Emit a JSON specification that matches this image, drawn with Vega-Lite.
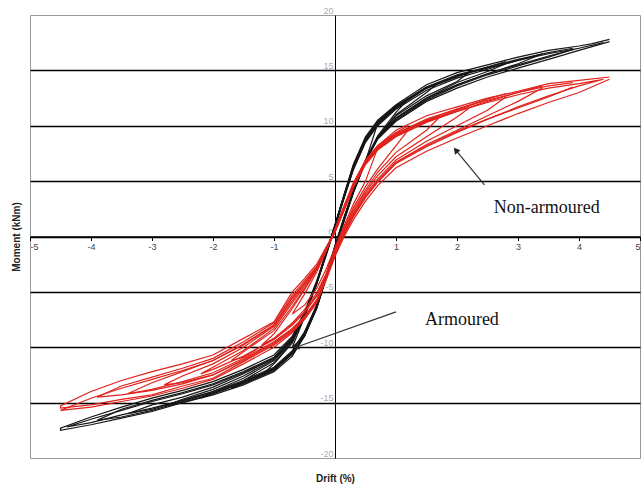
{
"$schema":"https://vega.github.io/schema/vega-lite/v6.json",
"width":610,"height":443,
"autosize":{"type":"none"},
"padding":{"left":30,"top":15,"right":1,"bottom":33},
"config":{"view":{"stroke":"#9a9a9a","strokeWidth":1},"font":"Liberation Sans"},
"datasets":{
"loops":[
{"s":"A","c":11,"x":0.7,"y":10.2},{"s":"A","c":11,"x":0.5,"y":8.8},{"s":"A","c":11,"x":0.3,"y":6.3},{"s":"A","c":11,"x":0.15,"y":3.7},{"s":"A","c":11,"x":0,"y":1.0},{"s":"A","c":11,"x":-0.15,"y":-1.7},{"s":"A","c":11,"x":-0.3,"y":-4.3},{"s":"A","c":11,"x":-0.5,"y":-7.3},{"s":"A","c":11,"x":-0.7,"y":-10.0},{"s":"A","c":11,"x":-0.5,"y":-9.0},{"s":"A","c":11,"x":-0.3,"y":-6.5},{"s":"A","c":11,"x":-0.15,"y":-3.9},{"s":"A","c":11,"x":0,"y":-1.2},{"s":"A","c":11,"x":0.15,"y":1.4},{"s":"A","c":11,"x":0.3,"y":3.9},{"s":"A","c":11,"x":0.5,"y":6.8},{"s":"A","c":11,"x":0.7,"y":10.2},

{"s":"A","c":1,"x":1.2,"y":12.4},{"s":"A","c":1,"x":1.0,"y":11.8},{"s":"A","c":1,"x":0.7,"y":10.4},{"s":"A","c":1,"x":0.5,"y":8.9},{"s":"A","c":1,"x":0.3,"y":6.4},{"s":"A","c":1,"x":0.15,"y":3.8},{"s":"A","c":1,"x":0,"y":1.1},{"s":"A","c":1,"x":-0.15,"y":-1.6},{"s":"A","c":1,"x":-0.3,"y":-4.2},{"s":"A","c":1,"x":-0.5,"y":-7.2},{"s":"A","c":1,"x":-0.7,"y":-9.6},{"s":"A","c":1,"x":-1.0,"y":-11.5},{"s":"A","c":1,"x":-1.2,"y":-12.5},
{"s":"A","c":1,"x":-1.0,"y":-12.0},{"s":"A","c":1,"x":-0.7,"y":-10.6},{"s":"A","c":1,"x":-0.5,"y":-9.0},{"s":"A","c":1,"x":-0.3,"y":-6.4},{"s":"A","c":1,"x":-0.15,"y":-3.8},{"s":"A","c":1,"x":0,"y":-1.1},{"s":"A","c":1,"x":0.15,"y":1.5},{"s":"A","c":1,"x":0.3,"y":4.0},{"s":"A","c":1,"x":0.5,"y":6.9},{"s":"A","c":1,"x":0.7,"y":9.1},{"s":"A","c":1,"x":1.0,"y":11.2},{"s":"A","c":1,"x":1.2,"y":12.4},

{"s":"A","c":12,"x":1.7,"y":13.9},{"s":"A","c":12,"x":1.5,"y":13.5},{"s":"A","c":12,"x":1.0,"y":11.8},{"s":"A","c":12,"x":0.7,"y":10.3},{"s":"A","c":12,"x":0.5,"y":8.8},{"s":"A","c":12,"x":0.3,"y":6.3},{"s":"A","c":12,"x":0.15,"y":3.7},{"s":"A","c":12,"x":0,"y":1.0},{"s":"A","c":12,"x":-0.15,"y":-1.6},{"s":"A","c":12,"x":-0.3,"y":-4.2},{"s":"A","c":12,"x":-0.5,"y":-7.1},{"s":"A","c":12,"x":-0.7,"y":-9.5},{"s":"A","c":12,"x":-1.0,"y":-11.4},{"s":"A","c":12,"x":-1.5,"y":-13.0},{"s":"A","c":12,"x":-1.7,"y":-13.7},
{"s":"A","c":12,"x":-1.5,"y":-13.3},{"s":"A","c":12,"x":-1.0,"y":-12.1},{"s":"A","c":12,"x":-0.7,"y":-10.6},{"s":"A","c":12,"x":-0.5,"y":-8.9},{"s":"A","c":12,"x":-0.3,"y":-6.4},{"s":"A","c":12,"x":-0.15,"y":-3.8},{"s":"A","c":12,"x":0,"y":-1.1},{"s":"A","c":12,"x":0.15,"y":1.5},{"s":"A","c":12,"x":0.3,"y":4.0},{"s":"A","c":12,"x":0.5,"y":6.8},{"s":"A","c":12,"x":0.7,"y":9.0},{"s":"A","c":12,"x":1.0,"y":11.0},{"s":"A","c":12,"x":1.5,"y":13.0},{"s":"A","c":12,"x":1.7,"y":13.9},

{"s":"A","c":2,"x":2.2,"y":14.8},{"s":"A","c":2,"x":2.0,"y":14.4},{"s":"A","c":2,"x":1.5,"y":13.4},{"s":"A","c":2,"x":1.0,"y":11.7},{"s":"A","c":2,"x":0.7,"y":10.2},{"s":"A","c":2,"x":0.5,"y":8.7},{"s":"A","c":2,"x":0.3,"y":6.2},{"s":"A","c":2,"x":0.15,"y":3.6},{"s":"A","c":2,"x":0,"y":1.0},{"s":"A","c":2,"x":-0.15,"y":-1.6},{"s":"A","c":2,"x":-0.3,"y":-4.2},{"s":"A","c":2,"x":-0.5,"y":-7.0},{"s":"A","c":2,"x":-0.7,"y":-9.4},{"s":"A","c":2,"x":-1.0,"y":-11.2},{"s":"A","c":2,"x":-1.5,"y":-12.8},{"s":"A","c":2,"x":-2.0,"y":-14.0},{"s":"A","c":2,"x":-2.2,"y":-14.6},
{"s":"A","c":2,"x":-2.0,"y":-14.2},{"s":"A","c":2,"x":-1.5,"y":-13.2},{"s":"A","c":2,"x":-1.0,"y":-12.0},{"s":"A","c":2,"x":-0.7,"y":-10.5},{"s":"A","c":2,"x":-0.5,"y":-8.8},{"s":"A","c":2,"x":-0.3,"y":-6.3},{"s":"A","c":2,"x":-0.15,"y":-3.7},{"s":"A","c":2,"x":0,"y":-1.0},{"s":"A","c":2,"x":0.15,"y":1.6},{"s":"A","c":2,"x":0.3,"y":4.1},{"s":"A","c":2,"x":0.5,"y":6.8},{"s":"A","c":2,"x":0.7,"y":9.0},{"s":"A","c":2,"x":1.0,"y":10.9},{"s":"A","c":2,"x":1.5,"y":12.7},{"s":"A","c":2,"x":2.0,"y":14.0},{"s":"A","c":2,"x":2.2,"y":14.8},

{"s":"A","c":13,"x":2.8,"y":15.8},{"s":"A","c":13,"x":2.5,"y":15.3},{"s":"A","c":13,"x":2.0,"y":14.5},{"s":"A","c":13,"x":1.5,"y":13.4},{"s":"A","c":13,"x":1.0,"y":11.6},{"s":"A","c":13,"x":0.7,"y":10.1},{"s":"A","c":13,"x":0.5,"y":8.6},{"s":"A","c":13,"x":0.3,"y":6.1},{"s":"A","c":13,"x":0.15,"y":3.5},{"s":"A","c":13,"x":0,"y":0.9},{"s":"A","c":13,"x":-0.15,"y":-1.7},{"s":"A","c":13,"x":-0.3,"y":-4.2},{"s":"A","c":13,"x":-0.5,"y":-7.0},{"s":"A","c":13,"x":-0.7,"y":-9.3},{"s":"A","c":13,"x":-1.0,"y":-11.1},{"s":"A","c":13,"x":-1.5,"y":-12.6},{"s":"A","c":13,"x":-2.0,"y":-13.8},{"s":"A","c":13,"x":-2.5,"y":-14.7},{"s":"A","c":13,"x":-2.8,"y":-15.3},
{"s":"A","c":13,"x":-2.5,"y":-15.0},{"s":"A","c":13,"x":-2.0,"y":-14.2},{"s":"A","c":13,"x":-1.5,"y":-13.2},{"s":"A","c":13,"x":-1.0,"y":-11.9},{"s":"A","c":13,"x":-0.7,"y":-10.4},{"s":"A","c":13,"x":-0.5,"y":-8.7},{"s":"A","c":13,"x":-0.3,"y":-6.2},{"s":"A","c":13,"x":-0.15,"y":-3.6},{"s":"A","c":13,"x":0,"y":-0.9},{"s":"A","c":13,"x":0.15,"y":1.7},{"s":"A","c":13,"x":0.3,"y":4.1},{"s":"A","c":13,"x":0.5,"y":6.8},{"s":"A","c":13,"x":0.7,"y":8.9},{"s":"A","c":13,"x":1.0,"y":10.7},{"s":"A","c":13,"x":1.5,"y":12.5},{"s":"A","c":13,"x":2.0,"y":13.9},{"s":"A","c":13,"x":2.5,"y":14.9},{"s":"A","c":13,"x":2.8,"y":15.6},

{"s":"A","c":3,"x":3.4,"y":16.5},{"s":"A","c":3,"x":3.0,"y":15.9},{"s":"A","c":3,"x":2.5,"y":15.1},{"s":"A","c":3,"x":2.0,"y":14.3},{"s":"A","c":3,"x":1.5,"y":13.2},{"s":"A","c":3,"x":1.0,"y":11.5},{"s":"A","c":3,"x":0.7,"y":10.0},{"s":"A","c":3,"x":0.5,"y":8.5},{"s":"A","c":3,"x":0.3,"y":6.0},{"s":"A","c":3,"x":0.15,"y":3.5},{"s":"A","c":3,"x":0,"y":0.8},{"s":"A","c":3,"x":-0.15,"y":-1.8},{"s":"A","c":3,"x":-0.3,"y":-4.3},{"s":"A","c":3,"x":-0.5,"y":-7.0},{"s":"A","c":3,"x":-0.7,"y":-9.2},{"s":"A","c":3,"x":-1.0,"y":-11.0},{"s":"A","c":3,"x":-1.5,"y":-12.4},{"s":"A","c":3,"x":-2.0,"y":-13.6},{"s":"A","c":3,"x":-2.5,"y":-14.5},{"s":"A","c":3,"x":-3.0,"y":-15.2},{"s":"A","c":3,"x":-3.4,"y":-16.0},
{"s":"A","c":3,"x":-3.0,"y":-15.6},{"s":"A","c":3,"x":-2.5,"y":-14.8},{"s":"A","c":3,"x":-2.0,"y":-14.0},{"s":"A","c":3,"x":-1.5,"y":-13.0},{"s":"A","c":3,"x":-1.0,"y":-11.8},{"s":"A","c":3,"x":-0.7,"y":-10.3},{"s":"A","c":3,"x":-0.5,"y":-8.6},{"s":"A","c":3,"x":-0.3,"y":-6.2},{"s":"A","c":3,"x":-0.15,"y":-3.6},{"s":"A","c":3,"x":0,"y":-0.8},{"s":"A","c":3,"x":0.15,"y":1.8},{"s":"A","c":3,"x":0.3,"y":4.2},{"s":"A","c":3,"x":0.5,"y":6.8},{"s":"A","c":3,"x":0.7,"y":8.8},{"s":"A","c":3,"x":1.0,"y":10.6},{"s":"A","c":3,"x":1.5,"y":12.4},{"s":"A","c":3,"x":2.0,"y":13.7},{"s":"A","c":3,"x":2.5,"y":14.7},{"s":"A","c":3,"x":3.0,"y":15.6},{"s":"A","c":3,"x":3.4,"y":16.5},

{"s":"A","c":14,"x":3.9,"y":17.0},{"s":"A","c":14,"x":3.5,"y":16.6},{"s":"A","c":14,"x":3.0,"y":16.0},{"s":"A","c":14,"x":2.5,"y":15.3},{"s":"A","c":14,"x":2.0,"y":14.6},{"s":"A","c":14,"x":1.5,"y":13.5},{"s":"A","c":14,"x":1.0,"y":11.7},{"s":"A","c":14,"x":0.7,"y":10.3},{"s":"A","c":14,"x":0.5,"y":8.8},{"s":"A","c":14,"x":0.3,"y":6.3},{"s":"A","c":14,"x":0.15,"y":3.7},{"s":"A","c":14,"x":0,"y":0.9},{"s":"A","c":14,"x":-0.15,"y":-1.6},{"s":"A","c":14,"x":-0.3,"y":-4.1},{"s":"A","c":14,"x":-0.5,"y":-6.9},{"s":"A","c":14,"x":-0.7,"y":-9.1},{"s":"A","c":14,"x":-1.0,"y":-10.9},{"s":"A","c":14,"x":-1.5,"y":-12.2},{"s":"A","c":14,"x":-2.0,"y":-13.3},{"s":"A","c":14,"x":-2.5,"y":-14.1},{"s":"A","c":14,"x":-3.0,"y":-14.8},{"s":"A","c":14,"x":-3.5,"y":-15.6},{"s":"A","c":14,"x":-3.9,"y":-16.6},
{"s":"A","c":14,"x":-3.5,"y":-16.3},{"s":"A","c":14,"x":-3.0,"y":-15.7},{"s":"A","c":14,"x":-2.5,"y":-14.9},{"s":"A","c":14,"x":-2.0,"y":-14.1},{"s":"A","c":14,"x":-1.5,"y":-13.2},{"s":"A","c":14,"x":-1.0,"y":-12.0},{"s":"A","c":14,"x":-0.7,"y":-10.6},{"s":"A","c":14,"x":-0.5,"y":-8.9},{"s":"A","c":14,"x":-0.3,"y":-6.4},{"s":"A","c":14,"x":-0.15,"y":-3.7},{"s":"A","c":14,"x":0,"y":-0.9},{"s":"A","c":14,"x":0.15,"y":1.6},{"s":"A","c":14,"x":0.3,"y":4.0},{"s":"A","c":14,"x":0.5,"y":6.8},{"s":"A","c":14,"x":0.7,"y":8.9},{"s":"A","c":14,"x":1.0,"y":10.5},{"s":"A","c":14,"x":1.5,"y":12.3},{"s":"A","c":14,"x":2.0,"y":13.6},{"s":"A","c":14,"x":2.5,"y":14.6},{"s":"A","c":14,"x":3.0,"y":15.4},{"s":"A","c":14,"x":3.5,"y":16.2},{"s":"A","c":14,"x":3.9,"y":16.9},

{"s":"A","c":4,"x":4.5,"y":17.8},{"s":"A","c":4,"x":4.2,"y":17.4},{"s":"A","c":4,"x":4.0,"y":17.2},{"s":"A","c":4,"x":3.5,"y":16.8},{"s":"A","c":4,"x":3.0,"y":16.2},{"s":"A","c":4,"x":2.5,"y":15.5},{"s":"A","c":4,"x":2.0,"y":14.8},{"s":"A","c":4,"x":1.5,"y":13.7},{"s":"A","c":4,"x":1.0,"y":11.9},{"s":"A","c":4,"x":0.7,"y":10.5},{"s":"A","c":4,"x":0.5,"y":9.0},{"s":"A","c":4,"x":0.3,"y":6.5},{"s":"A","c":4,"x":0.15,"y":3.8},{"s":"A","c":4,"x":0,"y":1.0},{"s":"A","c":4,"x":-0.15,"y":-1.5},{"s":"A","c":4,"x":-0.3,"y":-4.0},{"s":"A","c":4,"x":-0.5,"y":-6.8},{"s":"A","c":4,"x":-0.7,"y":-9.0},{"s":"A","c":4,"x":-1.0,"y":-10.7},{"s":"A","c":4,"x":-1.5,"y":-12.0},{"s":"A","c":4,"x":-2.0,"y":-13.1},{"s":"A","c":4,"x":-2.5,"y":-13.9},{"s":"A","c":4,"x":-3.0,"y":-14.6},{"s":"A","c":4,"x":-3.5,"y":-15.4},{"s":"A","c":4,"x":-4.0,"y":-16.3},{"s":"A","c":4,"x":-4.5,"y":-17.3},
{"s":"A","c":4,"x":-4.5,"y":-17.5},{"s":"A","c":4,"x":-4.2,"y":-17.2},{"s":"A","c":4,"x":-4.0,"y":-17.0},{"s":"A","c":4,"x":-3.5,"y":-16.4},{"s":"A","c":4,"x":-3.0,"y":-15.8},{"s":"A","c":4,"x":-2.5,"y":-15.0},{"s":"A","c":4,"x":-2.0,"y":-14.3},{"s":"A","c":4,"x":-1.5,"y":-13.4},{"s":"A","c":4,"x":-1.0,"y":-12.2},{"s":"A","c":4,"x":-0.7,"y":-10.8},{"s":"A","c":4,"x":-0.5,"y":-9.0},{"s":"A","c":4,"x":-0.3,"y":-6.5},{"s":"A","c":4,"x":-0.15,"y":-3.8},{"s":"A","c":4,"x":0,"y":-1.0},{"s":"A","c":4,"x":0.15,"y":1.5},{"s":"A","c":4,"x":0.3,"y":4.0},{"s":"A","c":4,"x":0.5,"y":6.8},{"s":"A","c":4,"x":0.7,"y":8.8},{"s":"A","c":4,"x":1.0,"y":10.4},{"s":"A","c":4,"x":1.5,"y":12.2},{"s":"A","c":4,"x":2.0,"y":13.4},{"s":"A","c":4,"x":2.5,"y":14.4},{"s":"A","c":4,"x":3.0,"y":15.2},{"s":"A","c":4,"x":3.5,"y":16.0},{"s":"A","c":4,"x":4.0,"y":16.8},{"s":"A","c":4,"x":4.5,"y":17.6},

{"s":"A","c":5,"x":4.4,"y":17.5},{"s":"A","c":5,"x":4.0,"y":17.0},{"s":"A","c":5,"x":3.5,"y":16.5},{"s":"A","c":5,"x":3.0,"y":15.9},{"s":"A","c":5,"x":2.5,"y":15.2},{"s":"A","c":5,"x":2.0,"y":14.5},{"s":"A","c":5,"x":1.5,"y":13.4},{"s":"A","c":5,"x":1.0,"y":11.6},{"s":"A","c":5,"x":0.7,"y":10.2},{"s":"A","c":5,"x":0.5,"y":8.7},{"s":"A","c":5,"x":0.3,"y":6.2},{"s":"A","c":5,"x":0.15,"y":3.6},{"s":"A","c":5,"x":0,"y":0.9},{"s":"A","c":5,"x":-0.15,"y":-1.7},{"s":"A","c":5,"x":-0.3,"y":-4.2},{"s":"A","c":5,"x":-0.5,"y":-7.0},{"s":"A","c":5,"x":-0.7,"y":-9.3},{"s":"A","c":5,"x":-1.0,"y":-11.0},{"s":"A","c":5,"x":-1.5,"y":-12.3},{"s":"A","c":5,"x":-2.0,"y":-13.4},{"s":"A","c":5,"x":-2.5,"y":-14.2},{"s":"A","c":5,"x":-3.0,"y":-14.9},{"s":"A","c":5,"x":-3.5,"y":-15.7},{"s":"A","c":5,"x":-4.0,"y":-16.5},{"s":"A","c":5,"x":-4.4,"y":-17.2},
{"s":"A","c":5,"x":-4.0,"y":-16.8},{"s":"A","c":5,"x":-3.5,"y":-16.1},{"s":"A","c":5,"x":-3.0,"y":-15.5},{"s":"A","c":5,"x":-2.5,"y":-14.8},{"s":"A","c":5,"x":-2.0,"y":-14.0},{"s":"A","c":5,"x":-1.5,"y":-13.1},{"s":"A","c":5,"x":-1.0,"y":-11.9},{"s":"A","c":5,"x":-0.7,"y":-10.5},{"s":"A","c":5,"x":-0.5,"y":-8.8},{"s":"A","c":5,"x":-0.3,"y":-6.3},{"s":"A","c":5,"x":-0.15,"y":-3.7},{"s":"A","c":5,"x":0,"y":-0.9},{"s":"A","c":5,"x":0.15,"y":1.7},{"s":"A","c":5,"x":0.3,"y":4.1},{"s":"A","c":5,"x":0.5,"y":6.9},{"s":"A","c":5,"x":0.7,"y":9.0},{"s":"A","c":5,"x":1.0,"y":10.7},{"s":"A","c":5,"x":1.5,"y":12.5},{"s":"A","c":5,"x":2.0,"y":13.7},{"s":"A","c":5,"x":2.5,"y":14.7},{"s":"A","c":5,"x":3.0,"y":15.5},{"s":"A","c":5,"x":3.5,"y":16.3},{"s":"A","c":5,"x":4.0,"y":17.0},{"s":"A","c":5,"x":4.4,"y":17.5},

{"s":"N","c":15,"x":0.7,"y":8.0},{"s":"N","c":15,"x":0.5,"y":6.8},{"s":"N","c":15,"x":0.3,"y":4.8},{"s":"N","c":15,"x":0.15,"y":2.8},{"s":"N","c":15,"x":0,"y":0.7},{"s":"N","c":15,"x":-0.15,"y":-1.4},{"s":"N","c":15,"x":-0.3,"y":-3.2},{"s":"N","c":15,"x":-0.5,"y":-5.2},{"s":"N","c":15,"x":-0.7,"y":-7.0},{"s":"N","c":15,"x":-0.5,"y":-6.2},{"s":"N","c":15,"x":-0.3,"y":-4.7},{"s":"N","c":15,"x":-0.15,"y":-3.0},{"s":"N","c":15,"x":0,"y":-1.0},{"s":"N","c":15,"x":0.15,"y":1.0},{"s":"N","c":15,"x":0.3,"y":2.9},{"s":"N","c":15,"x":0.5,"y":5.0},{"s":"N","c":15,"x":0.7,"y":8.0},

{"s":"N","c":6,"x":1.2,"y":10.0},{"s":"N","c":6,"x":1.0,"y":9.4},{"s":"N","c":6,"x":0.7,"y":8.2},{"s":"N","c":6,"x":0.5,"y":6.9},{"s":"N","c":6,"x":0.3,"y":4.8},{"s":"N","c":6,"x":0.15,"y":2.7},{"s":"N","c":6,"x":0,"y":0.6},{"s":"N","c":6,"x":-0.15,"y":-1.3},{"s":"N","c":6,"x":-0.3,"y":-3.0},{"s":"N","c":6,"x":-0.5,"y":-4.8},{"s":"N","c":6,"x":-0.7,"y":-6.5},{"s":"N","c":6,"x":-1.0,"y":-8.8},{"s":"N","c":6,"x":-1.2,"y":-9.8},
{"s":"N","c":6,"x":-1.0,"y":-9.2},{"s":"N","c":6,"x":-0.7,"y":-7.8},{"s":"N","c":6,"x":-0.5,"y":-6.6},{"s":"N","c":6,"x":-0.3,"y":-5.1},{"s":"N","c":6,"x":-0.15,"y":-3.4},{"s":"N","c":6,"x":0,"y":-1.2},{"s":"N","c":6,"x":0.15,"y":0.8},{"s":"N","c":6,"x":0.3,"y":2.6},{"s":"N","c":6,"x":0.5,"y":4.5},{"s":"N","c":6,"x":0.7,"y":6.1},{"s":"N","c":6,"x":1.0,"y":8.2},{"s":"N","c":6,"x":1.2,"y":9.6},

{"s":"N","c":16,"x":1.7,"y":10.9},{"s":"N","c":16,"x":1.5,"y":10.5},{"s":"N","c":16,"x":1.0,"y":9.3},{"s":"N","c":16,"x":0.7,"y":8.1},{"s":"N","c":16,"x":0.5,"y":6.8},{"s":"N","c":16,"x":0.3,"y":4.7},{"s":"N","c":16,"x":0.15,"y":2.6},{"s":"N","c":16,"x":0,"y":0.5},{"s":"N","c":16,"x":-0.15,"y":-1.2},{"s":"N","c":16,"x":-0.3,"y":-3.0},{"s":"N","c":16,"x":-0.5,"y":-4.7},{"s":"N","c":16,"x":-0.7,"y":-6.3},{"s":"N","c":16,"x":-1.0,"y":-8.5},{"s":"N","c":16,"x":-1.5,"y":-10.4},{"s":"N","c":16,"x":-1.7,"y":-11.2},
{"s":"N","c":16,"x":-1.5,"y":-10.9},{"s":"N","c":16,"x":-1.0,"y":-9.2},{"s":"N","c":16,"x":-0.7,"y":-7.9},{"s":"N","c":16,"x":-0.5,"y":-6.8},{"s":"N","c":16,"x":-0.3,"y":-5.3},{"s":"N","c":16,"x":-0.15,"y":-3.5},{"s":"N","c":16,"x":0,"y":-1.3},{"s":"N","c":16,"x":0.15,"y":0.6},{"s":"N","c":16,"x":0.3,"y":2.4},{"s":"N","c":16,"x":0.5,"y":4.2},{"s":"N","c":16,"x":0.7,"y":5.8},{"s":"N","c":16,"x":1.0,"y":7.6},{"s":"N","c":16,"x":1.5,"y":9.6},{"s":"N","c":16,"x":1.7,"y":10.7},

{"s":"N","c":7,"x":2.2,"y":11.8},{"s":"N","c":7,"x":2.0,"y":11.4},{"s":"N","c":7,"x":1.5,"y":10.4},{"s":"N","c":7,"x":1.0,"y":9.2},{"s":"N","c":7,"x":0.7,"y":8.0},{"s":"N","c":7,"x":0.5,"y":6.7},{"s":"N","c":7,"x":0.3,"y":4.6},{"s":"N","c":7,"x":0.15,"y":2.5},{"s":"N","c":7,"x":0,"y":0.5},{"s":"N","c":7,"x":-0.15,"y":-1.2},{"s":"N","c":7,"x":-0.3,"y":-2.9},{"s":"N","c":7,"x":-0.5,"y":-4.5},{"s":"N","c":7,"x":-0.7,"y":-6.0},{"s":"N","c":7,"x":-1.0,"y":-8.3},{"s":"N","c":7,"x":-1.5,"y":-10.3},{"s":"N","c":7,"x":-2.0,"y":-11.8},{"s":"N","c":7,"x":-2.2,"y":-12.4},
{"s":"N","c":7,"x":-2.0,"y":-12.0},{"s":"N","c":7,"x":-1.5,"y":-10.8},{"s":"N","c":7,"x":-1.0,"y":-9.3},{"s":"N","c":7,"x":-0.7,"y":-8.0},{"s":"N","c":7,"x":-0.5,"y":-6.9},{"s":"N","c":7,"x":-0.3,"y":-5.4},{"s":"N","c":7,"x":-0.15,"y":-3.6},{"s":"N","c":7,"x":0,"y":-1.4},{"s":"N","c":7,"x":0.15,"y":0.5},{"s":"N","c":7,"x":0.3,"y":2.2},{"s":"N","c":7,"x":0.5,"y":4.0},{"s":"N","c":7,"x":0.7,"y":5.5},{"s":"N","c":7,"x":1.0,"y":7.2},{"s":"N","c":7,"x":1.5,"y":9.0},{"s":"N","c":7,"x":2.0,"y":10.8},{"s":"N","c":7,"x":2.2,"y":11.6},

{"s":"N","c":17,"x":2.8,"y":12.9},{"s":"N","c":17,"x":2.5,"y":12.4},{"s":"N","c":17,"x":2.0,"y":11.5},{"s":"N","c":17,"x":1.5,"y":10.5},{"s":"N","c":17,"x":1.0,"y":9.1},{"s":"N","c":17,"x":0.7,"y":7.9},{"s":"N","c":17,"x":0.5,"y":6.6},{"s":"N","c":17,"x":0.3,"y":4.5},{"s":"N","c":17,"x":0.15,"y":2.4},{"s":"N","c":17,"x":0,"y":0.4},{"s":"N","c":17,"x":-0.15,"y":-1.2},{"s":"N","c":17,"x":-0.3,"y":-2.8},{"s":"N","c":17,"x":-0.5,"y":-4.3},{"s":"N","c":17,"x":-0.7,"y":-5.8},{"s":"N","c":17,"x":-1.0,"y":-8.1},{"s":"N","c":17,"x":-1.5,"y":-10.0},{"s":"N","c":17,"x":-2.0,"y":-11.5},{"s":"N","c":17,"x":-2.5,"y":-12.6},{"s":"N","c":17,"x":-2.8,"y":-13.4},
{"s":"N","c":17,"x":-2.5,"y":-13.2},{"s":"N","c":17,"x":-2.0,"y":-12.5},{"s":"N","c":17,"x":-1.5,"y":-11.1},{"s":"N","c":17,"x":-1.0,"y":-9.6},{"s":"N","c":17,"x":-0.7,"y":-8.4},{"s":"N","c":17,"x":-0.5,"y":-7.3},{"s":"N","c":17,"x":-0.3,"y":-5.8},{"s":"N","c":17,"x":-0.15,"y":-3.8},{"s":"N","c":17,"x":0,"y":-1.6},{"s":"N","c":17,"x":0.15,"y":0.3},{"s":"N","c":17,"x":0.3,"y":2.0},{"s":"N","c":17,"x":0.5,"y":3.8},{"s":"N","c":17,"x":0.7,"y":5.2},{"s":"N","c":17,"x":1.0,"y":6.9},{"s":"N","c":17,"x":1.5,"y":8.6},{"s":"N","c":17,"x":2.0,"y":10.0},{"s":"N","c":17,"x":2.5,"y":11.4},{"s":"N","c":17,"x":2.8,"y":12.6},

{"s":"N","c":8,"x":3.4,"y":13.6},{"s":"N","c":8,"x":3.0,"y":13.0},{"s":"N","c":8,"x":2.5,"y":12.2},{"s":"N","c":8,"x":2.0,"y":11.3},{"s":"N","c":8,"x":1.5,"y":10.3},{"s":"N","c":8,"x":1.0,"y":9.0},{"s":"N","c":8,"x":0.7,"y":7.8},{"s":"N","c":8,"x":0.5,"y":6.5},{"s":"N","c":8,"x":0.3,"y":4.4},{"s":"N","c":8,"x":0.15,"y":2.4},{"s":"N","c":8,"x":0,"y":0.4},{"s":"N","c":8,"x":-0.15,"y":-1.2},{"s":"N","c":8,"x":-0.3,"y":-2.8},{"s":"N","c":8,"x":-0.5,"y":-4.2},{"s":"N","c":8,"x":-0.7,"y":-5.6},{"s":"N","c":8,"x":-1.0,"y":-8.0},{"s":"N","c":8,"x":-1.5,"y":-9.8},{"s":"N","c":8,"x":-2.0,"y":-11.2},{"s":"N","c":8,"x":-2.5,"y":-12.2},{"s":"N","c":8,"x":-3.0,"y":-13.2},{"s":"N","c":8,"x":-3.4,"y":-14.2},
{"s":"N","c":8,"x":-3.0,"y":-13.8},{"s":"N","c":8,"x":-2.5,"y":-13.1},{"s":"N","c":8,"x":-2.0,"y":-12.3},{"s":"N","c":8,"x":-1.5,"y":-11.0},{"s":"N","c":8,"x":-1.0,"y":-9.5},{"s":"N","c":8,"x":-0.7,"y":-8.3},{"s":"N","c":8,"x":-0.5,"y":-7.2},{"s":"N","c":8,"x":-0.3,"y":-5.7},{"s":"N","c":8,"x":-0.15,"y":-3.8},{"s":"N","c":8,"x":0,"y":-1.6},{"s":"N","c":8,"x":0.15,"y":0.3},{"s":"N","c":8,"x":0.3,"y":1.9},{"s":"N","c":8,"x":0.5,"y":3.6},{"s":"N","c":8,"x":0.7,"y":5.0},{"s":"N","c":8,"x":1.0,"y":6.7},{"s":"N","c":8,"x":1.5,"y":8.3},{"s":"N","c":8,"x":2.0,"y":9.6},{"s":"N","c":8,"x":2.5,"y":10.9},{"s":"N","c":8,"x":3.0,"y":12.2},{"s":"N","c":8,"x":3.4,"y":13.4},

{"s":"N","c":18,"x":3.9,"y":13.9},{"s":"N","c":18,"x":3.5,"y":13.6},{"s":"N","c":18,"x":3.0,"y":13.0},{"s":"N","c":18,"x":2.5,"y":12.3},{"s":"N","c":18,"x":2.0,"y":11.5},{"s":"N","c":18,"x":1.5,"y":10.6},{"s":"N","c":18,"x":1.0,"y":9.3},{"s":"N","c":18,"x":0.7,"y":8.0},{"s":"N","c":18,"x":0.5,"y":6.7},{"s":"N","c":18,"x":0.3,"y":4.5},{"s":"N","c":18,"x":0.15,"y":2.5},{"s":"N","c":18,"x":0,"y":0.4},{"s":"N","c":18,"x":-0.15,"y":-1.1},{"s":"N","c":18,"x":-0.3,"y":-2.7},{"s":"N","c":18,"x":-0.5,"y":-4.0},{"s":"N","c":18,"x":-0.7,"y":-5.3},{"s":"N","c":18,"x":-1.0,"y":-7.8},{"s":"N","c":18,"x":-1.5,"y":-9.5},{"s":"N","c":18,"x":-2.0,"y":-11.0},{"s":"N","c":18,"x":-2.5,"y":-11.9},{"s":"N","c":18,"x":-3.0,"y":-12.7},{"s":"N","c":18,"x":-3.5,"y":-13.5},{"s":"N","c":18,"x":-3.9,"y":-14.5},
{"s":"N","c":18,"x":-3.5,"y":-14.3},{"s":"N","c":18,"x":-3.0,"y":-13.9},{"s":"N","c":18,"x":-2.5,"y":-13.3},{"s":"N","c":18,"x":-2.0,"y":-12.5},{"s":"N","c":18,"x":-1.5,"y":-11.2},{"s":"N","c":18,"x":-1.0,"y":-9.7},{"s":"N","c":18,"x":-0.7,"y":-8.5},{"s":"N","c":18,"x":-0.5,"y":-7.3},{"s":"N","c":18,"x":-0.3,"y":-5.8},{"s":"N","c":18,"x":-0.15,"y":-3.8},{"s":"N","c":18,"x":0,"y":-1.6},{"s":"N","c":18,"x":0.15,"y":0.2},{"s":"N","c":18,"x":0.3,"y":1.8},{"s":"N","c":18,"x":0.5,"y":3.5},{"s":"N","c":18,"x":0.7,"y":4.9},{"s":"N","c":18,"x":1.0,"y":6.6},{"s":"N","c":18,"x":1.5,"y":8.1},{"s":"N","c":18,"x":2.0,"y":9.4},{"s":"N","c":18,"x":2.5,"y":10.6},{"s":"N","c":18,"x":3.0,"y":11.6},{"s":"N","c":18,"x":3.5,"y":12.6},{"s":"N","c":18,"x":3.9,"y":13.5},

{"s":"N","c":9,"x":4.5,"y":14.4},{"s":"N","c":9,"x":4.0,"y":14.1},{"s":"N","c":9,"x":3.5,"y":13.8},{"s":"N","c":9,"x":3.0,"y":13.1},{"s":"N","c":9,"x":2.5,"y":12.5},{"s":"N","c":9,"x":2.0,"y":11.7},{"s":"N","c":9,"x":1.5,"y":10.9},{"s":"N","c":9,"x":1.0,"y":9.6},{"s":"N","c":9,"x":0.7,"y":8.2},{"s":"N","c":9,"x":0.5,"y":6.8},{"s":"N","c":9,"x":0.3,"y":4.5},{"s":"N","c":9,"x":0.15,"y":2.5},{"s":"N","c":9,"x":0,"y":0.5},{"s":"N","c":9,"x":-0.15,"y":-1.0},{"s":"N","c":9,"x":-0.3,"y":-2.5},{"s":"N","c":9,"x":-0.5,"y":-3.8},{"s":"N","c":9,"x":-0.7,"y":-5.0},{"s":"N","c":9,"x":-1.0,"y":-7.7},{"s":"N","c":9,"x":-1.5,"y":-9.2},{"s":"N","c":9,"x":-2.0,"y":-10.7},{"s":"N","c":9,"x":-2.5,"y":-11.5},{"s":"N","c":9,"x":-3.0,"y":-12.2},{"s":"N","c":9,"x":-3.5,"y":-13.0},{"s":"N","c":9,"x":-4.0,"y":-14.0},{"s":"N","c":9,"x":-4.5,"y":-15.3},
{"s":"N","c":9,"x":-4.5,"y":-15.5},{"s":"N","c":9,"x":-4.0,"y":-15.2},{"s":"N","c":9,"x":-3.5,"y":-14.7},{"s":"N","c":9,"x":-3.0,"y":-14.3},{"s":"N","c":9,"x":-2.5,"y":-13.5},{"s":"N","c":9,"x":-2.0,"y":-12.8},{"s":"N","c":9,"x":-1.5,"y":-11.3},{"s":"N","c":9,"x":-1.0,"y":-9.8},{"s":"N","c":9,"x":-0.7,"y":-8.6},{"s":"N","c":9,"x":-0.5,"y":-7.5},{"s":"N","c":9,"x":-0.3,"y":-6.0},{"s":"N","c":9,"x":-0.15,"y":-4.0},{"s":"N","c":9,"x":0,"y":-1.8},{"s":"N","c":9,"x":0.15,"y":0.0},{"s":"N","c":9,"x":0.3,"y":1.5},{"s":"N","c":9,"x":0.5,"y":3.2},{"s":"N","c":9,"x":0.7,"y":4.6},{"s":"N","c":9,"x":1.0,"y":6.2},{"s":"N","c":9,"x":1.5,"y":7.7},{"s":"N","c":9,"x":2.0,"y":8.9},{"s":"N","c":9,"x":2.5,"y":10.0},{"s":"N","c":9,"x":3.0,"y":11.1},{"s":"N","c":9,"x":3.5,"y":12.1},{"s":"N","c":9,"x":4.0,"y":13.0},{"s":"N","c":9,"x":4.5,"y":14.2},

{"s":"N","c":10,"x":4.4,"y":14.2},{"s":"N","c":10,"x":4.0,"y":13.8},{"s":"N","c":10,"x":3.5,"y":13.4},{"s":"N","c":10,"x":3.0,"y":12.8},{"s":"N","c":10,"x":2.5,"y":12.1},{"s":"N","c":10,"x":2.0,"y":11.3},{"s":"N","c":10,"x":1.5,"y":10.4},{"s":"N","c":10,"x":1.0,"y":9.1},{"s":"N","c":10,"x":0.7,"y":7.9},{"s":"N","c":10,"x":0.5,"y":6.6},{"s":"N","c":10,"x":0.3,"y":4.5},{"s":"N","c":10,"x":0.15,"y":2.5},{"s":"N","c":10,"x":0,"y":0.4},{"s":"N","c":10,"x":-0.15,"y":-1.2},{"s":"N","c":10,"x":-0.3,"y":-2.8},{"s":"N","c":10,"x":-0.5,"y":-4.2},{"s":"N","c":10,"x":-0.7,"y":-5.5},{"s":"N","c":10,"x":-1.0,"y":-8.0},{"s":"N","c":10,"x":-1.5,"y":-9.7},{"s":"N","c":10,"x":-2.0,"y":-11.2},{"s":"N","c":10,"x":-2.5,"y":-12.1},{"s":"N","c":10,"x":-3.0,"y":-12.9},{"s":"N","c":10,"x":-3.5,"y":-13.7},{"s":"N","c":10,"x":-4.0,"y":-14.6},{"s":"N","c":10,"x":-4.5,"y":-15.7},
{"s":"N","c":10,"x":-4.0,"y":-15.4},{"s":"N","c":10,"x":-3.5,"y":-14.9},{"s":"N","c":10,"x":-3.0,"y":-14.4},{"s":"N","c":10,"x":-2.5,"y":-13.7},{"s":"N","c":10,"x":-2.0,"y":-12.9},{"s":"N","c":10,"x":-1.5,"y":-11.5},{"s":"N","c":10,"x":-1.0,"y":-10.0},{"s":"N","c":10,"x":-0.7,"y":-8.7},{"s":"N","c":10,"x":-0.5,"y":-7.4},{"s":"N","c":10,"x":-0.3,"y":-5.9},{"s":"N","c":10,"x":-0.15,"y":-3.9},{"s":"N","c":10,"x":0,"y":-1.7},{"s":"N","c":10,"x":0.15,"y":0.2},{"s":"N","c":10,"x":0.3,"y":1.8},{"s":"N","c":10,"x":0.5,"y":3.6},{"s":"N","c":10,"x":0.7,"y":5.0},{"s":"N","c":10,"x":1.0,"y":6.7},{"s":"N","c":10,"x":1.5,"y":8.2},{"s":"N","c":10,"x":2.0,"y":9.5},{"s":"N","c":10,"x":2.5,"y":10.6},{"s":"N","c":10,"x":3.0,"y":11.7},{"s":"N","c":10,"x":3.5,"y":12.7},{"s":"N","c":10,"x":4.0,"y":13.6},{"s":"N","c":10,"x":4.4,"y":14.2}
],
"notes":[{"label":"Non-armoured","x":3.47,"y":2.56},{"label":"Armoured","x":2.08,"y":-7.53}],
"arrows":[{"name":"N","x":2.45,"y":4.67,"x2":1.98,"y2":7.8},{"name":"A","x":1.0,"y":-6.8,"x2":-0.64,"y2":-10.0}]
},
"layer":[
{"data":{"name":"loops"},
 "transform":[{"window":[{"op":"row_number","as":"i"}]},{"filter":"datum.s=='A'"}],
 "mark":{"type":"line","color":"#161616","strokeWidth":1.2,"clip":true},
 "encoding":{
  "x":{"field":"x","type":"quantitative","scale":{"domain":[-5,5],"nice":false},
   "axis":{"orient":"bottom","offset":-221.5,"values":[-5,-4,-3,-2,-1,0,1,2,3,4,5],"grid":false,"domainColor":"#000","domainWidth":1.5,"tickColor":"#000","tickSize":4,"labelFontSize":9,"labelColor":"#444","labelPadding":2,"labelExpr":"datum.value==0?'':''+datum.value","title":"Drift (%)","titleFontSize":10,"titleFontWeight":"bold","titleColor":"#222","titleBaseline":"middle","titleY":241.5}},
  "y":{"field":"y","type":"quantitative","scale":{"domain":[-20,20],"nice":false},
   "axis":{"orient":"left","offset":-305,"values":[-20,-15,-10,-5,0,5,10,15,20],"grid":true,"gridColor":{"condition":{"test":"abs(datum.value)==20","value":"transparent"},"value":"#000"},"gridWidth":1.6,"gridOpacity":1,"domainColor":"#000","domainWidth":1,"ticks":false,"labelFontSize":9,"labelColor":"#aaa","labelBaseline":"bottom","labelPadding":2,"labelExpr":"''+datum.value","title":"Moment (kNm)","titleFontSize":10,"titleFontWeight":"bold","titleColor":"#222","titleAngle":-90,"titleBaseline":"middle","titleX":-319,"titleY":221.5}},
  "detail":{"field":"c"},
  "order":{"field":"i"}}},
{"data":{"name":"loops"},
 "transform":[{"window":[{"op":"row_number","as":"i"}]},{"filter":"datum.s=='N'"}],
 "mark":{"type":"line","color":"#e0221c","strokeWidth":1.2,"clip":true},
 "encoding":{
  "x":{"field":"x","type":"quantitative"},
  "y":{"field":"y","type":"quantitative"},
  "detail":{"field":"c"},
  "order":{"field":"i"}}},
{"data":{"name":"arrows"},
 "mark":{"type":"rule","color":"#333","strokeWidth":1.2},
 "encoding":{"x":{"field":"x","type":"quantitative"},"y":{"field":"y","type":"quantitative"},"x2":{"field":"x2"},"y2":{"field":"y2"}}},
{"data":{"name":"arrows"},
 "transform":[{"filter":"datum.name=='N'"}],
 "mark":{"type":"point","shape":"triangle-up","filled":true,"color":"#222","size":50,"angle":320,"opacity":1},
 "encoding":{"x":{"field":"x2","type":"quantitative"},"y":{"field":"y2","type":"quantitative"}}},
{"data":{"name":"arrows"},
 "transform":[{"filter":"datum.name=='A'"}],
 "mark":{"type":"point","shape":"triangle-up","filled":true,"color":"#222","size":50,"angle":250,"opacity":1},
 "encoding":{"x":{"field":"x2","type":"quantitative"},"y":{"field":"y2","type":"quantitative"}}},
{"data":{"name":"notes"},
 "mark":{"type":"text","font":"Liberation Serif","fontSize":18,"color":"#111","baseline":"middle","align":"center"},
 "encoding":{"x":{"field":"x","type":"quantitative"},"y":{"field":"y","type":"quantitative"},"text":{"field":"label"}}}
]
}
